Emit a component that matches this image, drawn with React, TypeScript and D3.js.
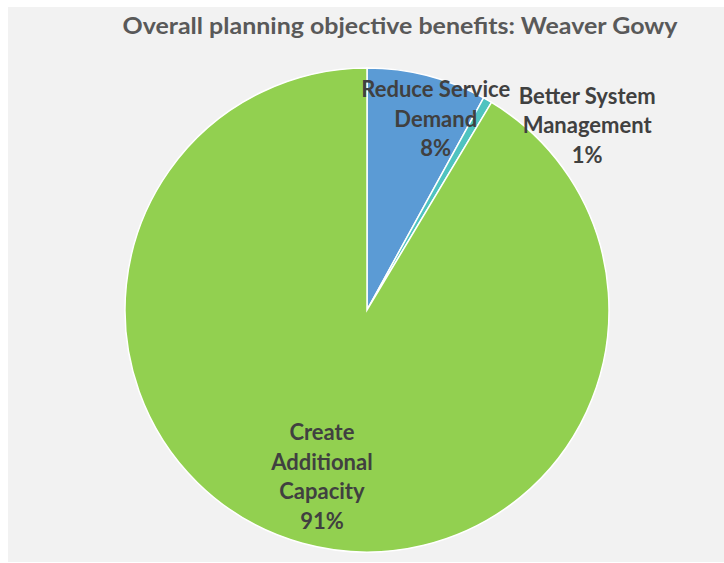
import React from "react";
import * as d3 from "d3";

const categories = ["Reduce Service Demand", "Better System Management", "Create Additional Capacity"];
const values = [8.0, 0.6, 91.4];
const percentLabels = ["8%", "1%", "91%"];
const labelLines = [["Reduce Service", "Demand", "8%"], ["Better System", "Management", "1%"], ["Create", "Additional", "Capacity", "91%"]];
const colors = ["#5b9bd5", "#4fc3c0", "#92d050"];
const title = "Overall planning objective benefits: Weaver Gowy";

// label placement (polar: degrees clockwise from top, distance from centre)
const labelPolar = [
  { angle: 19.8, dist: 203 },
  { angle: 50.1, dist: 287 },
  { angle: 195.1, dist: 173 },
];

const W = 724;
const H = 563;
const CX = 367;
const CY = 310;
const R = 242;
const LINE = 29.5;

export default function App() {
  const data = categories.map((c, i) => ({ c, v: values[i], pct: percentLabels[i] }));
  const pie = d3.pie<any>().value((d) => d.v).sort(null);
  const arcs = pie(data);
  const arc = d3.arc<any>().innerRadius(0).outerRadius(R);
  const font = "Lato, 'Open Sans', sans-serif";
  return (
    <svg width={W} height={H} style={{ position: "absolute", left: 0, top: 0, background: "#ffffff" }}>
      <rect x={8} y={7} width={W - 8} height={555} fill="#f2f2f2" />
      <text
        x={400}
        y={34}
        textAnchor="middle"
        fontFamily={font}
        fontWeight="bold"
        fontSize={23}
        fill="#595959"
        textLength={555}
        lengthAdjust="spacingAndGlyphs"
      >
        {title}
      </text>
      <g transform={`translate(${CX},${CY})`}>
        {arcs.map((a, i) => (
          <path key={i} d={arc(a) as string} fill={colors[i]} stroke="#ffffff" strokeWidth={1.5} />
        ))}
        {labelLines.map((lines, i) => {
          const p = labelPolar[i];
          const rad = (p.angle * Math.PI) / 180;
          const x = Math.sin(rad) * p.dist;
          const y = -Math.cos(rad) * p.dist;
          const n = lines.length;
          return (
            <text key={i} textAnchor="middle" fontFamily={font} fontWeight="bold" fontSize={22} fill="#404040">
              {lines.map((ln, j) => (
                <tspan key={j} x={x} y={y + (j - (n - 1) / 2) * LINE + 7.5}>
                  {ln}
                </tspan>
              ))}
            </text>
          );
        })}
      </g>
    </svg>
  );
}
